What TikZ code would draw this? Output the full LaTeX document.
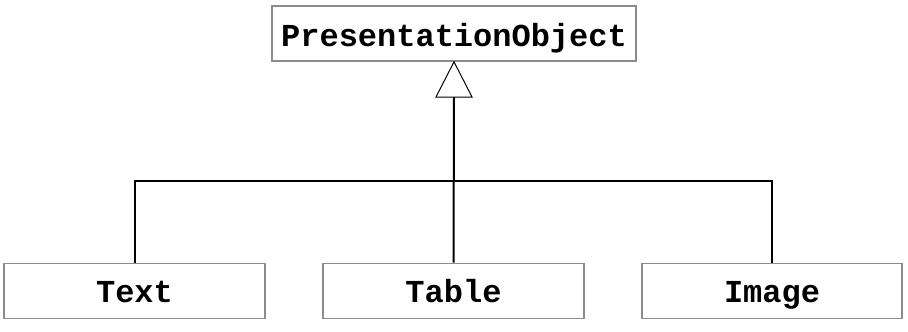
\documentclass[tikz,border=0pt]{standalone}
\usepackage{fontspec}
\setmonofont{Liberation Mono}
\begin{document}
\begin{tikzpicture}[x=1pt,y=-1pt,
  classbox/.style={draw=black!45,line width=1.6pt,fill=white,minimum height=55pt,
    inner sep=0pt,text height=24pt,text depth=2pt,
    font=\ttfamily\bfseries\fontsize{32}{32}\selectfont},
  link/.style={draw=black,line width=2pt}]
\useasboundingbox (0,0) rectangle (908,332);
\node[classbox,minimum width=364pt,text height=26pt,text depth=0pt] (po) at (454,33.5) {PresentationObject};
\node[classbox,minimum width=261pt] (text) at (134.5,291) {Text};
\node[classbox,minimum width=261pt] (table) at (453.5,291) {Table};
\node[classbox,minimum width=260pt] (image) at (772,291) {Image};
\coordinate (tip) at (po.south);
\coordinate (base) at (454,97);
\coordinate (join) at (454,181);
% generalization arrow
\draw[link] (table.north) -- (base);
\draw[line width=1pt,fill=white] (tip) -- (436,97) -- (472,97) -- cycle;
\draw[link] (text.north) |- (join) -| (image.north);
\end{tikzpicture}
\end{document}
